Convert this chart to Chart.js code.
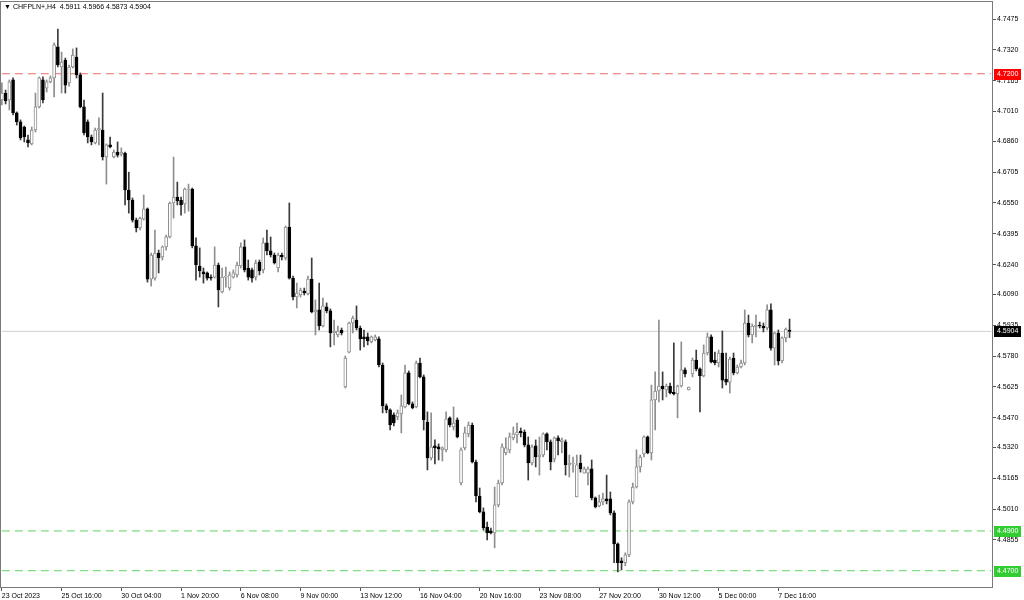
<!doctype html>
<html>
<head>
<meta charset="utf-8">
<title>CHFPLN+,H4</title>
<script src="https://cdn.jsdelivr.net/npm/chart.js"></script>
<style>
  html, body { margin: 0; padding: 0; background: #fff; }
  #wrap { position: relative; width: 1024px; height: 600px; }
</style>
</head>
<body>
<div id="wrap"><canvas id="chart"></canvas></div>
<script>
// ---- data ----
const symbolTitle = 'CHFPLN+,H4'

const openPrices = [
  4.7068, 4.7103, 4.7068, 4.7169, 4.7003, 4.6958, 4.6932, 4.6867, 4.6847, 4.6917,
  4.7033, 4.7169, 4.7128, 4.7159, 4.7179, 4.7335, 4.7234, 4.7269, 4.7154, 4.7234,
  4.7284, 4.7194, 4.7033, 4.6958, 4.6882, 4.6852, 4.6917, 4.6917, 4.6781, 4.6842,
  4.6781, 4.6806, 4.6796, 4.6801, 4.6615, 4.6565, 4.6464, 4.6424, 4.6469, 4.6520,
  4.6167, 4.6172, 4.6298, 4.6278, 4.6329, 4.6379, 4.6550, 4.6580, 4.6565, 4.6545,
  4.6615, 4.6620, 4.6334, 4.6233, 4.6203, 4.6198, 4.6177, 4.6177, 4.6238, 4.6102,
  4.6177, 4.6122, 4.6177, 4.6188, 4.6233, 4.6329, 4.6223, 4.6213, 4.6177, 4.6253,
  4.6213, 4.6349, 4.6309, 4.6288, 4.6223, 4.6288, 4.6273, 4.6429, 4.6172, 4.6077,
  4.6087, 4.6107, 4.6092, 4.6167, 4.6002, 4.6012, 4.5931, 4.6027, 4.6007, 4.5896,
  4.5886, 4.5911, 4.5624, 4.5800, 4.5946, 4.5961, 4.5921, 4.5876, 4.5876, 4.5851,
  4.5861, 4.5866, 4.5735, 4.5529, 4.5509, 4.5484, 4.5474, 4.5489, 4.5524, 4.5695,
  4.5539, 4.5524, 4.5745, 4.5675, 4.5448, 4.5267, 4.5328, 4.5323, 4.5308, 4.5308,
  4.5469, 4.5423, 4.5459, 4.5141, 4.5318, 4.5388, 4.5433, 4.5247, 4.5076, 4.4996,
  4.4920, 4.4900, 4.4890, 4.5031, 4.5141, 4.5293, 4.5308, 4.5368, 4.5383, 4.5403,
  4.5398, 4.5333, 4.5242, 4.5328, 4.5272, 4.5282, 4.5388, 4.5348, 4.5262, 4.5368,
  4.5348, 4.5348, 4.5232, 4.5237, 4.5071, 4.5242, 4.5191, 4.5191, 4.5212, 4.5066,
  4.5026, 4.5046, 4.5061, 4.5061, 4.4991, 4.4835, 4.4750, 4.4740, 4.4780, 4.5046,
  4.5121, 4.5222, 4.5287, 4.5373, 4.5293, 4.5559, 4.5604, 4.5629, 4.5609, 4.5629,
  4.5599, 4.5589, 4.5629, 4.5710, 4.5609, 4.5690, 4.5760, 4.5715, 4.5680, 4.5795,
  4.5876, 4.5760, 4.5745, 4.5795, 4.5664, 4.5649, 4.5770, 4.5695, 4.5725, 4.5745,
  4.5946, 4.5886, 4.5926, 4.5936, 4.5931, 4.5921, 4.6012, 4.5820, 4.5896, 4.5755,
  4.5871, 4.5911
]

const highPrices = [
  4.7154, 4.7118, 4.7169, 4.7179, 4.7008, 4.6968, 4.6937, 4.6892, 4.6932, 4.7103,
  4.7184, 4.7184, 4.7169, 4.7189, 4.7355, 4.7425, 4.7309, 4.7279, 4.7244, 4.7325,
  4.7330, 4.7204, 4.7068, 4.6968, 4.6892, 4.6927, 4.6978, 4.7103, 4.6847, 4.6882,
  4.6816, 4.6857, 4.6827, 4.6806, 4.6705, 4.6575, 4.6474, 4.6479, 4.6590, 4.6525,
  4.6298, 4.6414, 4.6313, 4.6334, 4.6389, 4.6555, 4.6781, 4.6655, 4.6580, 4.6625,
  4.6645, 4.6625, 4.6374, 4.6324, 4.6223, 4.6203, 4.6188, 4.6329, 4.6248, 4.6223,
  4.6228, 4.6203, 4.6213, 4.6253, 4.6349, 4.6364, 4.6263, 4.6223, 4.6263, 4.6263,
  4.6374, 4.6414, 4.6379, 4.6298, 4.6298, 4.6298, 4.6434, 4.6550, 4.6182, 4.6147,
  4.6122, 4.6122, 4.6182, 4.6273, 4.6062, 4.6147, 4.6072, 4.6047, 4.6017, 4.5961,
  4.5931, 4.5921, 4.5780, 4.5951, 4.5981, 4.6032, 4.5931, 4.5911, 4.5896, 4.5881,
  4.5886, 4.5876, 4.5745, 4.5539, 4.5514, 4.5494, 4.5509, 4.5584, 4.5735, 4.5705,
  4.5549, 4.5755, 4.5770, 4.5685, 4.5499, 4.5494, 4.5358, 4.5338, 4.5323, 4.5499,
  4.5474, 4.5524, 4.5469, 4.5318, 4.5423, 4.5448, 4.5443, 4.5257, 4.5116, 4.5016,
  4.4945, 4.4915, 4.5121, 4.5156, 4.5338, 4.5368, 4.5393, 4.5423, 4.5443, 4.5418,
  4.5408, 4.5373, 4.5333, 4.5358, 4.5373, 4.5393, 4.5393, 4.5358, 4.5373, 4.5378,
  4.5368, 4.5358, 4.5282, 4.5272, 4.5282, 4.5282, 4.5222, 4.5222, 4.5257, 4.5071,
  4.5081, 4.5091, 4.5181, 4.5096, 4.5001, 4.4840, 4.4765, 4.4790, 4.5056, 4.5141,
  4.5308, 4.5282, 4.5378, 4.5378, 4.5634, 4.5700, 4.5961, 4.5700, 4.5639, 4.5644,
  4.5846, 4.5634, 4.5851, 4.5720, 4.5624, 4.5770, 4.5810, 4.5720, 4.5836, 4.5896,
  4.5886, 4.5800, 4.5810, 4.5906, 4.5795, 4.5775, 4.5795, 4.5735, 4.5760, 4.6012,
  4.5986, 4.5941, 4.5986, 4.5951, 4.5946, 4.6037, 4.6042, 4.5901, 4.5911, 4.5876,
  4.5921, 4.5966
]

const lowPrices = [
  4.7043, 4.7048, 4.7018, 4.6993, 4.6942, 4.6867, 4.6857, 4.6832, 4.6842, 4.6907,
  4.7028, 4.7053, 4.7108, 4.7154, 4.7083, 4.7234, 4.7103, 4.7103, 4.7138, 4.7229,
  4.7179, 4.7028, 4.6892, 4.6852, 4.6842, 4.6847, 4.6842, 4.6766, 4.6645, 4.6827,
  4.6776, 4.6781, 4.6786, 4.6540, 4.6499, 4.6454, 4.6404, 4.6414, 4.6464, 4.6152,
  4.6132, 4.6162, 4.6198, 4.6263, 4.6313, 4.6374, 4.6474, 4.6540, 4.6489, 4.6499,
  4.6509, 4.6324, 4.6162, 4.6177, 4.6147, 4.6162, 4.6162, 4.6172, 4.6027, 4.6097,
  4.6127, 4.6112, 4.6172, 4.6177, 4.6223, 4.6203, 4.6162, 4.6152, 4.6162, 4.6188,
  4.6198, 4.6288, 4.6278, 4.6243, 4.6203, 4.6263, 4.6263, 4.6167, 4.6062, 4.6022,
  4.6077, 4.6087, 4.6087, 4.5997, 4.5886, 4.5911, 4.5926, 4.5997, 4.5826, 4.5836,
  4.5876, 4.5886, 4.5619, 4.5795, 4.5896, 4.5911, 4.5810, 4.5826, 4.5836, 4.5846,
  4.5856, 4.5725, 4.5494, 4.5494, 4.5408, 4.5428, 4.5459, 4.5393, 4.5519, 4.5534,
  4.5514, 4.5519, 4.5670, 4.5408, 4.5207, 4.5257, 4.5237, 4.5257, 4.5252, 4.5298,
  4.5423, 4.5408, 4.5368, 4.5131, 4.5308, 4.5373, 4.5242, 4.5046, 4.4991, 4.4905,
  4.4855, 4.4885, 4.4815, 4.5021, 4.5131, 4.5283, 4.5293, 4.5358, 4.5343, 4.5373,
  4.5323, 4.5156, 4.5232, 4.5222, 4.5181, 4.5272, 4.5308, 4.5207, 4.5247, 4.5283,
  4.5293, 4.5181, 4.5171, 4.5196, 4.5071, 4.5196, 4.5191, 4.5131, 4.5056, 4.5016,
  4.5021, 4.5031, 4.5036, 4.4981, 4.4740, 4.4694, 4.4704, 4.4725, 4.4770, 4.5036,
  4.5116, 4.5196, 4.5272, 4.5288, 4.5257, 4.5408, 4.5549, 4.5559, 4.5574, 4.5589,
  4.5584, 4.5469, 4.5624, 4.5675, 4.5609, 4.5675, 4.5705, 4.5499, 4.5675, 4.5785,
  4.5745, 4.5735, 4.5725, 4.5619, 4.5634, 4.5594, 4.5685, 4.5690, 4.5720, 4.5735,
  4.5876, 4.5846, 4.5876, 4.5921, 4.5901, 4.5911, 4.5810, 4.5735, 4.5735, 4.5745,
  4.5851, 4.5873
]

const closePrices = [
  4.7103, 4.7063, 4.7159, 4.7003, 4.6958, 4.6877, 4.6882, 4.6852, 4.6917, 4.7033,
  4.7179, 4.7068, 4.7159, 4.7179, 4.7345, 4.7244, 4.7259, 4.7143, 4.7234, 4.7294,
  4.7194, 4.7033, 4.6902, 4.6882, 4.6857, 4.6917, 4.6927, 4.6781, 4.6842, 4.6832,
  4.6806, 4.6791, 4.6806, 4.6615, 4.6565, 4.6464, 4.6424, 4.6474, 4.6520, 4.6167,
  4.6288, 4.6298, 4.6273, 4.6329, 4.6379, 4.6550, 4.6580, 4.6560, 4.6540, 4.6620,
  4.6620, 4.6334, 4.6238, 4.6208, 4.6193, 4.6172, 4.6172, 4.6238, 4.6112, 4.6177,
  4.6182, 4.6188, 4.6198, 4.6238, 4.6329, 4.6213, 4.6177, 4.6172, 4.6248, 4.6208,
  4.6349, 4.6309, 4.6288, 4.6248, 4.6288, 4.6278, 4.6429, 4.6172, 4.6077, 4.6097,
  4.6112, 4.6097, 4.6167, 4.6002, 4.6012, 4.5931, 4.6032, 4.6007, 4.5896, 4.5906,
  4.5906, 4.5896, 4.5770, 4.5946, 4.5971, 4.5921, 4.5866, 4.5866, 4.5856, 4.5876,
  4.5876, 4.5735, 4.5529, 4.5509, 4.5433, 4.5443, 4.5494, 4.5529, 4.5695, 4.5539,
  4.5519, 4.5745, 4.5675, 4.5459, 4.5267, 4.5323, 4.5318, 4.5313, 4.5318, 4.5464,
  4.5433, 4.5443, 4.5373, 4.5308, 4.5393, 4.5433, 4.5247, 4.5076, 4.4996, 4.4915,
  4.4890, 4.4890, 4.5031, 4.5141, 4.5323, 4.5318, 4.5373, 4.5388, 4.5398, 4.5393,
  4.5333, 4.5242, 4.5323, 4.5272, 4.5282, 4.5388, 4.5348, 4.5247, 4.5368, 4.5353,
  4.5358, 4.5232, 4.5242, 4.5242, 4.5232, 4.5212, 4.5212, 4.5212, 4.5066, 4.5021,
  4.5046, 4.5061, 4.5051, 4.4991, 4.4835, 4.4740, 4.4740, 4.4780, 4.5046, 4.5121,
  4.5222, 4.5272, 4.5373, 4.5293, 4.5559, 4.5604, 4.5629, 4.5614, 4.5629, 4.5594,
  4.5589, 4.5629, 4.5710, 4.5690, 4.5624, 4.5760, 4.5715, 4.5680, 4.5795, 4.5876,
  4.5750, 4.5745, 4.5795, 4.5659, 4.5649, 4.5765, 4.5695, 4.5725, 4.5745, 4.5946,
  4.5886, 4.5931, 4.5936, 4.5931, 4.5921, 4.6012, 4.5820, 4.5896, 4.5755, 4.5871,
  4.5916, 4.5904
]

// time axis: one label every 16 bars
const dateLabels = [
  '23 Oct 2023', '25 Oct 16:00', '30 Oct 04:00', '1 Nov 20:00', '6 Nov 08:00',
  '9 Nov 00:00', '13 Nov 12:00', '16 Nov 04:00', '20 Nov 16:00', '23 Nov 08:00',
  '27 Nov 20:00', '30 Nov 12:00', '5 Dec 00:00', '7 Dec 16:00'
]
const barsPerLabel = 16
const totalSlots = 266 // bar slots visible incl. empty space on the right

const priceTicks = [
  4.7475, 4.7320, 4.7165, 4.7010, 4.6860, 4.6705, 4.6550, 4.6395, 4.6240,
  4.6090, 4.5935, 4.5780, 4.5625, 4.5470, 4.5320, 4.5165, 4.5010, 4.4855
]
const priceMin = 4.4613
const priceMax = 4.7566

const resistanceLevel = 4.72
const supportLevels = [4.49, 4.47]

// ---- build ----
const last = openPrices.length - 1
const lastPrice = closePrices[last]
const isUp = (i) => closePrices[i] >= openPrices[i]

const GRAY = '#8e8e8e'
const FONT = '"Liberation Sans", "DejaVu Sans", Arial, sans-serif'

const slots = Array.from({ length: totalSlots }, (_, i) => String(i))
const firstSlot = slots[0]
const lastSlot = slots[totalSlots - 1]

function levelLine(value, color, dash) {
  return {
    type: 'line',
    data: [{ x: firstSlot, y: value }, { x: lastSlot, y: value }],
    borderColor: color,
    borderWidth: 1,
    borderDash: dash,
    pointRadius: 0,
    order: 5
  }
}

function noPadding(scale) {
  scale.paddingTop = 0
  scale.paddingBottom = 0
  scale.paddingLeft = 0
  scale.paddingRight = 0
}

const frame = {
  id: 'frame',
  afterDraw(chart) {
    const { ctx, chartArea: a } = chart
    ctx.save()
    ctx.strokeStyle = '#7a7a7a'
    ctx.lineWidth = 1
    ctx.strokeRect(Math.floor(a.left) + 0.5, Math.floor(a.top) + 0.5,
      Math.round(a.right - a.left) - 1, Math.round(a.bottom - a.top) - 1)
    ctx.restore()
  }
}

const priceTags = {
  id: 'priceTags',
  afterDraw(chart) {
    const { ctx, chartArea: a } = chart
    const y = chart.scales.y
    const tags = [
      { v: resistanceLevel, bg: '#ff0000' },
      { v: lastPrice, bg: '#000000' },
      { v: supportLevels[0], bg: '#32cd32' },
      { v: supportLevels[1], bg: '#32cd32' }
    ]
    ctx.save()
    ctx.font = '7px ' + FONT
    ctx.textBaseline = 'middle'
    ctx.textAlign = 'left'
    tags.forEach((t) => {
      const py = Math.round(y.getPixelForValue(t.v))
      ctx.fillStyle = t.bg
      ctx.fillRect(Math.round(a.right) + 1, py - 5, 27, 11)
      ctx.fillStyle = '#ffffff'
      ctx.fillText(t.v.toFixed(4), Math.round(a.right) + 4, py + 0.5)
    })
    // header
    ctx.fillStyle = '#000'
    ctx.fillText('\u25BC', 4, 7)
    ctx.fillText(symbolTitle + '  ' + [openPrices[last], highPrices[last], lowPrices[last], closePrices[last]]
      .map((p) => p.toFixed(4)).join(' '), 13, 7)
    ctx.restore()
  }
}

new Chart(document.getElementById('chart'), {
  type: 'bar',
  data: {
    labels: slots,
    datasets: [
      {
        // candle bodies
        data: openPrices.map((o, i) => [o, closePrices[i]]),
        backgroundColor: openPrices.map((o, i) => (isUp(i) ? '#ffffff' : '#000000')),
        borderColor: openPrices.map((o, i) => (isUp(i) ? GRAY : '#000000')),
        borderWidth: 1,
        borderSkipped: false,
        barThickness: 3,
        minBarLength: 1,
        grouped: false,
        order: 0
      },
      {
        // wicks
        data: lowPrices.map((l, i) => [l, highPrices[i]]),
        backgroundColor: openPrices.map((o, i) => (isUp(i) ? GRAY : '#3a3a3a')),
        borderWidth: 0,
        barThickness: 1,
        grouped: false,
        order: 1
      },
      levelLine(resistanceLevel, '#ec6a6a', [8, 5]),
      levelLine(supportLevels[0], '#5fd35f', [8, 5]),
      levelLine(supportLevels[1], '#5fd35f', [8, 5]),
      levelLine(lastPrice, '#cfcfcf', [])
    ]
  },
  options: {
    responsive: true,
    maintainAspectRatio: false,
    animation: false,
    layout: { padding: { top: 1, left: 0, right: 0, bottom: 0 } },
    plugins: { legend: { display: false }, tooltip: { enabled: false } },
    scales: {
      x: {
        type: 'category',
        offset: true,
        afterBuildTicks(scale) {
          scale.ticks = scale.ticks.filter((t) => t.value % barsPerLabel === 0 && t.value / barsPerLabel < dateLabels.length)
        },
        afterFit(scale) {
          scale.height = 12
          noPadding(scale)
        },
        grid: { drawOnChartArea: false, offset: false, tickLength: 3, color: '#555' },
        border: { display: false },
        ticks: {
          autoSkip: false,
          maxRotation: 0,
          align: 'start',
          padding: 1,
          color: '#000',
          font: { family: FONT, size: 7 },
          callback: (v) => dateLabels[v / barsPerLabel]
        }
      },
      y: {
        position: 'right',
        min: priceMin,
        max: priceMax,
        afterBuildTicks(scale) {
          scale.ticks = priceTicks.map((v) => ({ value: v }))
        },
        afterFit(scale) {
          scale.width = 31
          noPadding(scale)
        },
        grid: { drawOnChartArea: false, tickLength: 3, color: '#555' },
        border: { display: false },
        ticks: {
          padding: 1,
          color: '#000',
          font: { family: FONT, size: 7 },
          callback: (v) => Number(v).toFixed(4)
        }
      }
    }
  },
  plugins: [frame, priceTags]
})
</script>
</body>
</html>
